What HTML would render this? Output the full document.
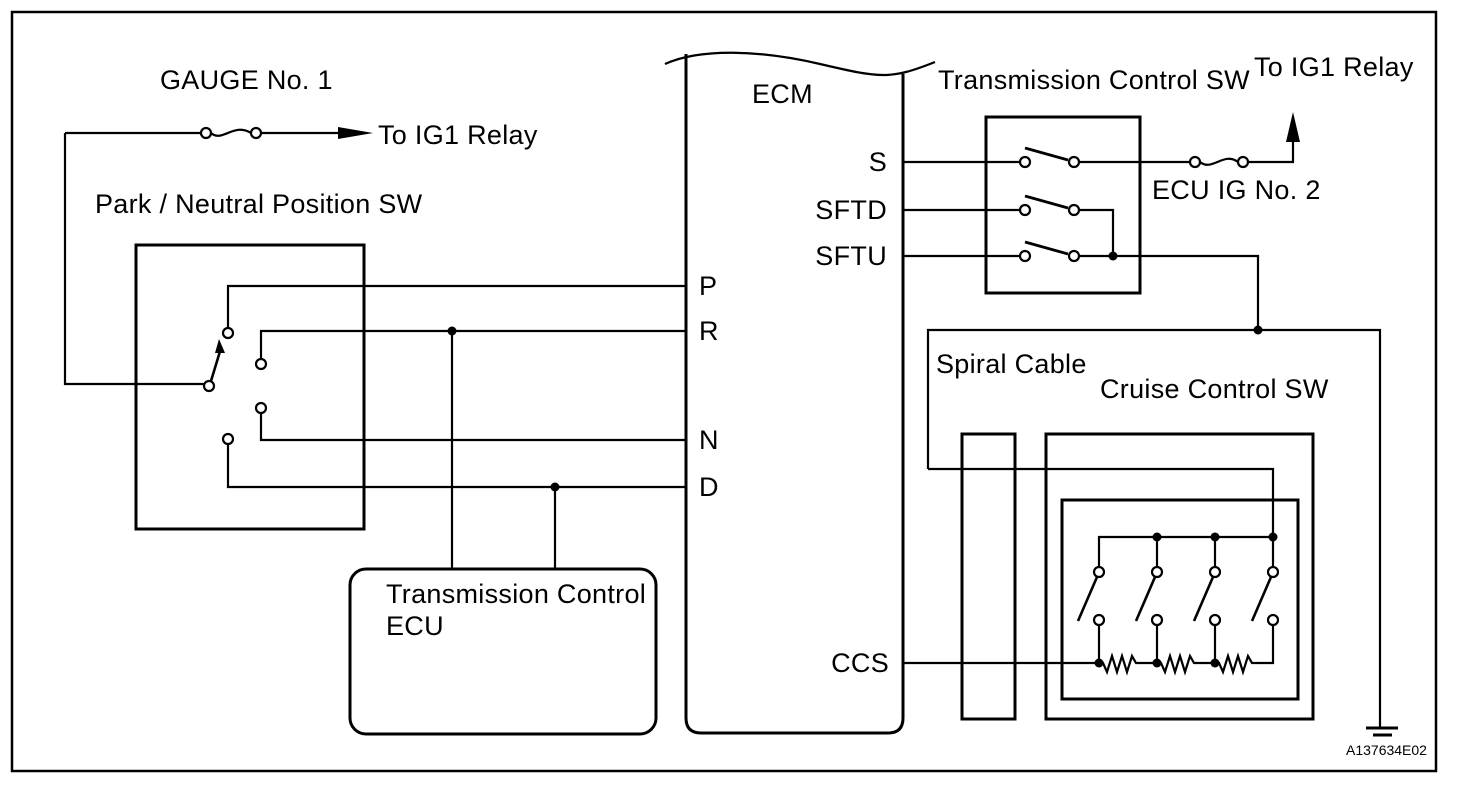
<!DOCTYPE html>
<html><head><style>
body{margin:0;background:#fff}
svg{display:block}
text{font-family:"Liberation Sans",sans-serif;font-size:27px;letter-spacing:0.3px;fill:#000}
</style></head><body>
<svg width="1472" height="810" viewBox="0 0 1472 810" xmlns="http://www.w3.org/2000/svg">
<g fill="none" stroke="#000" stroke-width="2.2">
<rect x="12" y="12" width="1424" height="759" stroke-width="2.5"/>
<path d="M665,64 C700,48 760,50 820,64 S890,80 935,62"/>
<path d="M686,54 V718 Q686,733 701,733 H888 Q903,733 903,718 V74" stroke-width="3"/>
<rect x="136" y="245" width="228" height="284" stroke-width="3"/>
<path d="M65,133 H201 M261,133 H342"/>
<circle cx="206" cy="133" r="5"/><circle cx="256" cy="133" r="5"/>
<path d="M211,133 C222,143 234,122 251,133"/>
<path d="M65,133 V384 H204"/>
<circle cx="209" cy="386" r="5"/>
<circle cx="228" cy="333" r="5"/>
<path d="M228,328 V286 H686"/>
<path d="M211,381 L221,348" stroke-width="2.6"/>
<circle cx="261" cy="364" r="5"/>
<path d="M261,359 V331 H686"/>
<circle cx="261" cy="408" r="5"/>
<path d="M261,413 V440 H686"/>
<circle cx="228" cy="439" r="5"/>
<path d="M228,444 V487 H686"/>
<path d="M452,331 V569 M555,487 V569"/>
<rect x="350" y="569" width="306" height="165" rx="16" stroke-width="3"/>
<rect x="986" y="117" width="154" height="176" stroke-width="3"/>
<path d="M903,162 H1020 M903,210 H1020 M903,256 H1020"/>
<circle cx="1025" cy="162" r="5"/><circle cx="1074" cy="162" r="5"/>
<circle cx="1025" cy="210" r="5"/><circle cx="1074" cy="210" r="5"/>
<circle cx="1025" cy="256" r="5"/><circle cx="1074" cy="256" r="5"/>
<path d="M1025,148 L1068,160 M1025,196 L1068,208 M1025,242 L1068,254" stroke-width="2.8"/>
<path d="M1079,162 H1190 M1248,162 H1293 V140"/>
<circle cx="1195" cy="162" r="5"/><circle cx="1243" cy="162" r="5"/>
<path d="M1200,162 C1212,172 1224,151 1238,162"/>
<path d="M1079,210 H1113 V256 M1079,256 H1258 V330"/>
<path d="M928,469 V330 H1380 V728"/>
<path d="M1366,728 H1398 M1373,735 H1392" stroke-width="3"/>
<path d="M928,469 H1273 V537"/>
<rect x="962" y="434" width="53" height="285" stroke-width="3"/>
<rect x="1046" y="434" width="267" height="285" stroke-width="3"/>
<rect x="1062" y="500" width="236" height="199" stroke-width="3"/>
<path d="M1099,567 V537 H1273 M1157,537 V567 M1215,537 V567 M1273,537 V567"/>
<circle cx="1099" cy="572" r="5"/><circle cx="1157" cy="572" r="5"/><circle cx="1215" cy="572" r="5"/><circle cx="1273" cy="572" r="5"/>
<circle cx="1099" cy="620" r="5"/><circle cx="1157" cy="620" r="5"/><circle cx="1215" cy="620" r="5"/><circle cx="1273" cy="620" r="5"/>
<path d="M1097,577 L1078,621 M1155,577 L1136,621 M1213,577 L1194,621 M1271,577 L1252,621" stroke-width="2.6"/>
<path d="M1099,625 V663 M1157,625 V663 M1215,625 V663 M1273,625 V663 H1265"/>
<path d="M903,663 H1103 L1107,672 L1112,656 L1117,672 L1122,656 L1127,672 L1132,656 L1136,663 H1161 L1165,672 L1170,656 L1175,672 L1180,656 L1185,672 L1190,656 L1194,663 H1219 L1223,672 L1228,656 L1233,672 L1238,656 L1243,672 L1248,656 L1252,663 H1265"/>
</g>
<g fill="#000">
<polygon points="338,127 373,133 338,139"/>
<polygon points="219,339 215,353 225,353"/>
<polygon points="1293,112 1286,142 1300,142"/>
<circle cx="452" cy="331" r="4.5"/><circle cx="555" cy="487" r="4.5"/>
<circle cx="1113" cy="256" r="4.5"/><circle cx="1258" cy="330" r="4.5"/>
<circle cx="1157" cy="537" r="4.5"/><circle cx="1215" cy="537" r="4.5"/><circle cx="1273" cy="537" r="4.5"/>
<circle cx="1099" cy="663" r="4.5"/><circle cx="1157" cy="663" r="4.5"/><circle cx="1215" cy="663" r="4.5"/>
</g>
<text x="160" y="89">GAUGE No. 1</text>
<text x="378" y="144">To IG1 Relay</text>
<text x="95" y="213">Park / Neutral Position SW</text>
<text x="752" y="103">ECM</text>
<text x="887" y="171" text-anchor="end">S</text>
<text x="887" y="219" text-anchor="end">SFTD</text>
<text x="887" y="265" text-anchor="end">SFTU</text>
<text x="699" y="295">P</text>
<text x="699" y="340">R</text>
<text x="699" y="449">N</text>
<text x="699" y="496">D</text>
<text x="889" y="672" text-anchor="end">CCS</text>
<text x="386" y="603">Transmission Control</text>
<text x="386" y="635">ECU</text>
<text x="938" y="89">Transmission Control SW</text>
<text x="1254" y="76">To IG1 Relay</text>
<text x="1152" y="199">ECU IG No. 2</text>
<text x="936" y="373">Spiral Cable</text>
<text x="1100" y="398">Cruise Control SW</text>
<text x="1346" y="755" style="font-size:14px;letter-spacing:0">A137634E02</text>
</svg>
</body></html>
